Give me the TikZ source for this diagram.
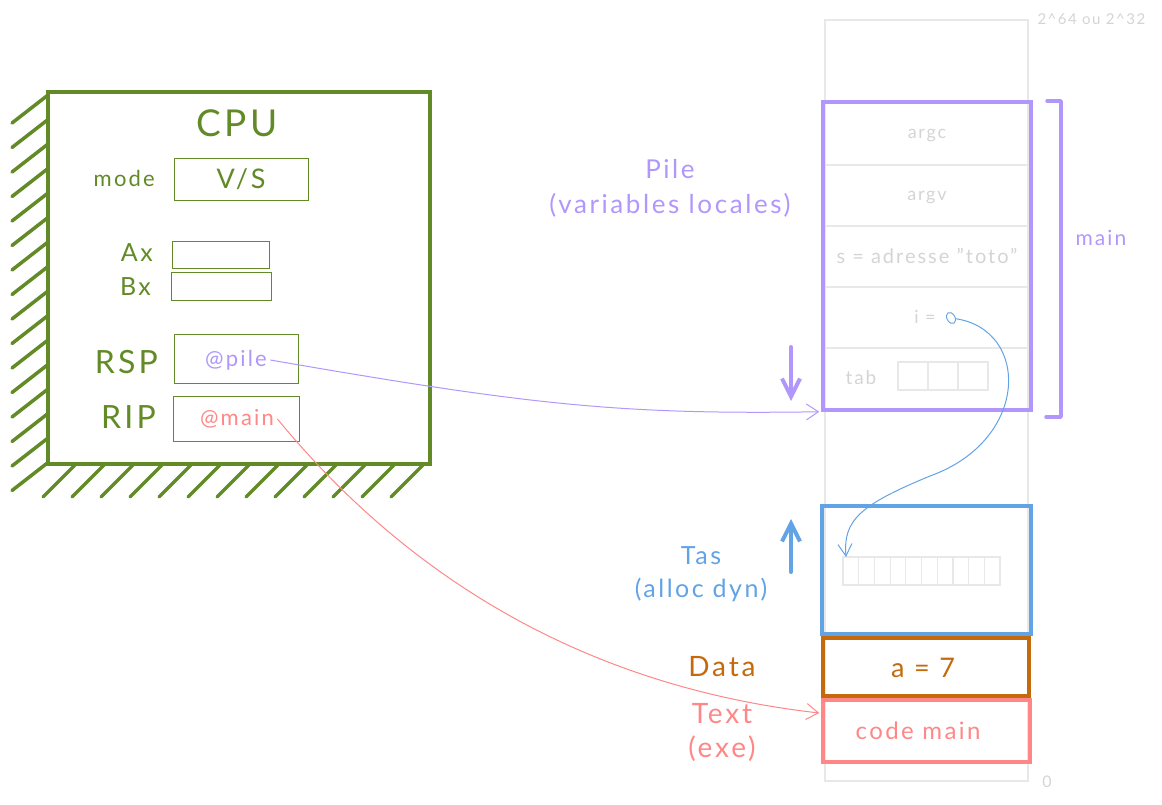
\documentclass[tikz,border=0pt]{standalone}
\usepackage{fontspec}
\setmainfont{Lato}[LetterSpace=10]
\usetikzlibrary{arrows.meta,shapes.geometric}
\definecolor{cgreen}{RGB}{98,138,38}
\definecolor{cpurple}{RGB}{177,151,252}
\definecolor{cblue}{RGB}{98,163,230}
\definecolor{corange}{RGB}{196,106,12}
\definecolor{cpink}{RGB}{255,135,135}
\definecolor{cgray}{RGB}{232,232,232}
\definecolor{ctext}{RGB}{212,212,212}
\newcommand\fsz[2]{\fontsize{#1}{#2}\selectfont}
\begin{document}
\begin{tikzpicture}[x=1pt,y=-1pt,
  hatch/.style={cgreen,line width=3.5pt,line cap=round},
  reg/.style={draw=cgreen,line width=1pt,inner sep=0pt},
  lbl/.style={cgreen,inner sep=0pt},
  membox/.style={line width=3.5pt,inner sep=0pt,draw},
  cell/.style={draw=cgray,line width=1.2pt},
  graytxt/.style={ctext,font=\fsz{18}{20}},
  thinarrow/.style={line width=1pt,-{Straight Barb[length=12pt,width=16pt]}},
  bigarrow/.style={line width=4pt,line cap=round,-{Straight Barb[length=18pt,width=18pt]}}]
\useasboundingbox (0,0) rectangle (1162,804);

% memory column
\draw[cgray,line width=1.5pt] (825,20) rectangle (1028,781);
\node[ctext,font=\fsz{15}{17},anchor=west] (top) at (1034,19) {2\^{}64 ou 2\^{}32};
\node[ctext,font=\fsz{16}{18}] (zero) at (1047,782) {0};

% CPU
\foreach \k in {0,...,15} \draw[hatch] (12,{123+24.5*\k}) -- (48,{95+24.5*\k});
\foreach \k in {0,...,12} \draw[hatch] ({43+29*\k},497) -- ({75+29*\k},465);
\node[draw=cgreen,line width=3.5pt,fill=white,minimum width=382pt,minimum height=372pt,inner sep=0pt] (cpu) at (239,278) {};
\node[cgreen,font=\fsz{37}{40}] (cputitle) at (237,123) {CPU};

\node[lbl,font=\fsz{22}{24},anchor=east] (model) at (155,178) {mode};
\node[reg,minimum width=134pt,minimum height=42pt,text=cgreen,font=\fsz{27}{29}] (vs) at (241,179) {V/S};

\node[lbl,font=\fsz{25}{27},anchor=east] (axl) at (153,253) {Ax};
\node[reg,minimum width=97pt,minimum height=27pt] (ax) at (220.5,254.5) {};
\node[lbl,font=\fsz{25}{27},anchor=east] (bxl) at (151,287) {Bx};
\node[reg,minimum width=100pt,minimum height=28pt] (bx) at (221,286) {};

\node[lbl,font=\fsz{32}{34},anchor=east] (rspl) at (158,362) {RSP};
\node[reg,minimum width=124pt,minimum height=49pt] (rsp) at (236,358.5) {};
\node[cpurple,font=\fsz{22}{24}] (pilev) at (236,360) {@pile};

\node[lbl,font=\fsz{32}{34},anchor=east] (ripl) at (156,417) {RIP};
\node[reg,minimum width=126pt,minimum height=45pt] (rip) at (236,418.5) {};
\node[cpink,font=\fsz{22}{24}] (mainv) at (237,419) {@main};

% Stack
\node[membox,draw=cpurple,minimum width=208pt,minimum height=308pt] (pile) at (927,256) {};
\foreach \yy in {165,226,287,348} \draw[cgray,line width=2pt] (826,\yy) -- (1028,\yy);
\node[graytxt] (argc) at (927,135) {argc};
\node[graytxt] (argv) at (927,197) {argv};
\node[ctext,font=\fsz{20}{22}] (s) at (927,256) {s = adresse "toto"};
\node[graytxt] (ieq) at (925,317) {i =};
\node[draw=cblue,line width=0.9pt,ellipse,minimum width=8pt,minimum height=12pt,inner sep=0pt,rotate=30] (idot) at (951,318) {};
\node[graytxt,font=\fsz{19}{21}] (tab) at (861,378) {tab};
\foreach \xx in {898,928,958} \draw[cell] (\xx,362) rectangle ++(30,28);
\draw[cpurple,line width=3.5pt,line join=round,line cap=round] (1047,101) -- (1061,101) -- (1061,417) -- (1046,417);
\node[cpurple,font=\fsz{21}{23},anchor=west] (mainlbl) at (1072,238) {main};
\node[cpurple,align=center,font=\fsz{26}{35}] (pilelbl) at (670,188) {Pile\\(variables locales)};
\coordinate (pdn1) at (791,347);
\coordinate (pdn2) at (791,401);
\draw[cpurple,bigarrow] (pdn1) -- (pdn2);

% Heap
\node[membox,draw=cblue,minimum width=209pt,minimum height=128pt] (tas) at (926.5,570) {};
\foreach \k in {0,...,9} \draw[cell] ({843+15.7*\k},557) rectangle ++(15.7,28);
\coordinate (cellstart) at (846,557);
\node[cblue,align=center,font=\fsz{25}{33}] (taslbl) at (701,574) {Tas\\(alloc dyn)};
\coordinate (pup1) at (791,572);
\coordinate (pup2) at (791,519);
\draw[cblue,bigarrow] (pup1) -- (pup2);

% Data
\node[membox,draw=corange,minimum width=206pt,minimum height=58pt,inner sep=0pt] (data) at (926,667) {};
\node[corange,font=\fsz{27}{29}] (datav) at (923,668) {a = 7};
\node[corange,font=\fsz{28}{30}] (datalbl) at (722,667) {Data};

% Text
\node[membox,draw=cpink,minimum width=207pt,minimum height=62pt,inner sep=0pt] (textbox) at (926.5,731) {};
\node[cpink,font=\fsz{24}{26}] (textv) at (918,731) {code main};
\node[cpink,align=center,font=\fsz{28}{34}] (textlbl) at (722,733) {Text\\(exe)};

% connectors
\draw[cpurple,thinarrow] (pilev.east) .. controls +(260,45) and +(-200,3) .. ([xshift=-2pt]pile.south west);
\draw[cpink,thinarrow] (mainv.east) .. controls +(140,170) and +(-220,-25) .. ([xshift=-2pt,yshift=18pt]textbox.west);
\coordinate (bmid) at (930,476);
\draw[cblue,line width=1pt,-{Straight Barb[length=12pt,width=14pt]}] (idot) .. controls (1030,330) and (1030,440) .. (bmid) .. controls (860,505) and (843,520) .. (cellstart);
\end{tikzpicture}
\end{document}
